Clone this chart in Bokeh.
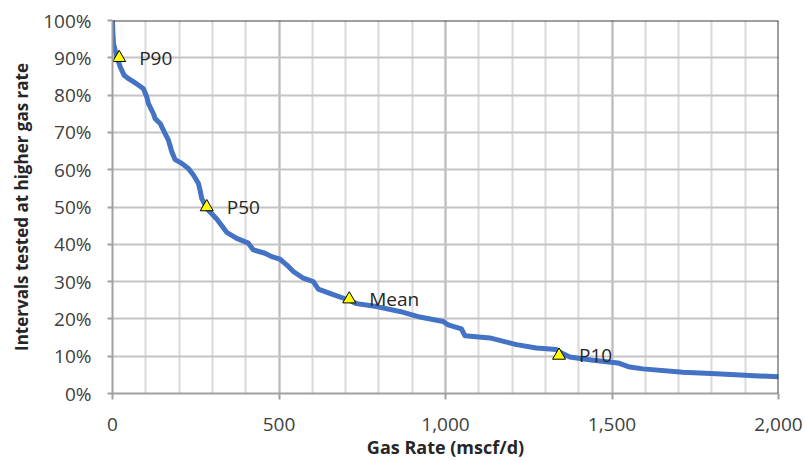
from bokeh.plotting import figure
from bokeh.models import (ColumnDataSource, NumeralTickFormatter, FixedTicker, Grid,
                          Span, Range1d)
from bokeh.core.properties import value
from bokeh.embed import file_html
from bokeh.resources import INLINE

# Curve: gas rate (mscf/d) vs fraction of intervals tested at higher rate
gas_rate = [0, 1, 3, 13, 23, 35, 48, 73, 93, 103, 108, 123, 128, 143, 158, 168, 178,
            188, 208, 228, 243, 258, 263, 268, 283, 313, 343, 373, 408, 423, 458, 478,
            503, 523, 543, 573, 603, 618, 663, 711, 733, 793, 863, 923, 993, 1008,
            1048, 1058, 1133, 1213, 1273, 1333, 1341, 1373, 1443, 1518, 1553, 1593,
            1713, 1813, 1913, 2000]
frac_higher = [1.00, 0.97, 0.938, 0.902, 0.876, 0.853, 0.844, 0.83, 0.817, 0.795,
               0.777, 0.75, 0.737, 0.724, 0.697, 0.679, 0.648, 0.627, 0.617, 0.603,
               0.586, 0.563, 0.545, 0.523, 0.496, 0.468, 0.432, 0.416, 0.403, 0.385,
               0.376, 0.367, 0.360, 0.345, 0.327, 0.309, 0.300, 0.280, 0.265, 0.250,
               0.241, 0.233, 0.220, 0.205, 0.193, 0.184, 0.173, 0.155, 0.149, 0.131,
               0.122, 0.118, 0.112, 0.098, 0.089, 0.082, 0.071, 0.066, 0.057, 0.053,
               0.048, 0.045]

# Highlighted statistics
stat_labels = ["P90", "P50", "Mean", "P10"]
stat_rate = [20, 283, 711, 1341]
stat_frac = [0.90, 0.50, 0.253, 0.102]

x_ticks = [0, 500, 1000, 1500, 2000]
y_ticks = [0.0, 0.1, 0.2, 0.3, 0.4, 0.5, 0.6, 0.7, 0.8, 0.9, 1.0]

FONT = "Open Sans"

p = figure(width=805, height=461, output_backend="svg", toolbar_location=None,
           x_range=Range1d(0, 2000), y_range=Range1d(0, 1.0),
           min_border_left=112, min_border_right=27, min_border_top=20,
           min_border_bottom=67)
p.background_fill_color = "white"
p.border_fill_color = "white"
p.outline_line_color = None

# grids
p.xgrid.visible = False
p.ygrid.visible = False
minor_x = list(range(0, 2001, 100))
p.add_layout(Grid(dimension=0, ticker=FixedTicker(ticks=minor_x),
                  grid_line_color="#d9d9d9", grid_line_width=2))
p.add_layout(Grid(dimension=0, ticker=FixedTicker(ticks=x_ticks),
                  grid_line_color="#bcbcbc", grid_line_width=2))
p.add_layout(Grid(dimension=1, ticker=FixedTicker(ticks=y_ticks),
                  grid_line_color="#c4c4c4", grid_line_width=2))

# axes
p.xaxis.ticker = FixedTicker(ticks=x_ticks)
p.yaxis.ticker = FixedTicker(ticks=y_ticks)
p.xaxis.formatter = NumeralTickFormatter(format="0,0")
p.yaxis.formatter = NumeralTickFormatter(format="0%")
for ax in (p.xaxis, p.yaxis):
    ax.axis_line_color = "#a0a0a0"
    ax.axis_line_width = 2
    ax.major_tick_line_color = "#a0a0a0"
    ax.major_tick_line_width = 2
    ax.major_tick_in = 0
    ax.minor_tick_line_color = None
    ax.major_label_text_font = FONT
    ax.major_label_text_font_size = "19px"
    ax.major_label_text_color = "#404040"
    ax.axis_label_text_font = FONT
    ax.axis_label_text_font_style = "bold"
    ax.axis_label_text_color = "#262626"
p.xaxis.major_tick_out = 6
p.yaxis.major_tick_out = 5
p.xaxis.major_label_standoff = 18
p.yaxis.major_label_standoff = 16
p.xaxis.axis_label = "Gas Rate (mscf/d)"
p.yaxis.axis_label = "Intervals tested at higher gas rate"
p.xaxis.axis_label_text_font_size = "18px"
p.yaxis.axis_label_text_font_size = "17px"
p.xaxis.axis_label_standoff = 1
p.yaxis.axis_label_standoff = 7

# top/right plot-area border
p.add_layout(Span(location=1.0, dimension="width", line_color="#404040", line_width=2))
p.add_layout(Span(location=2000, dimension="height", line_color="#404040", line_width=2))

curve = ColumnDataSource(dict(x=gas_rate, y=frac_higher))
p.line("x", "y", source=curve, line_color="#4472C4", line_width=5,
       line_join="round", line_cap="round")

stats = ColumnDataSource(dict(x=stat_rate, y=stat_frac, label=stat_labels))
p.scatter("x", "y", source=stats, marker="triangle", size=13,
          fill_color="#FFFF00", line_color="black", line_width=1)
p.text("x", "y", text="label", source=stats, x_offset=20,
       text_align="left", text_baseline="middle",
       text_font=value(FONT), text_font_size="19px", text_color="#262626")

open("out.html", "w").write(file_html(p, INLINE))
